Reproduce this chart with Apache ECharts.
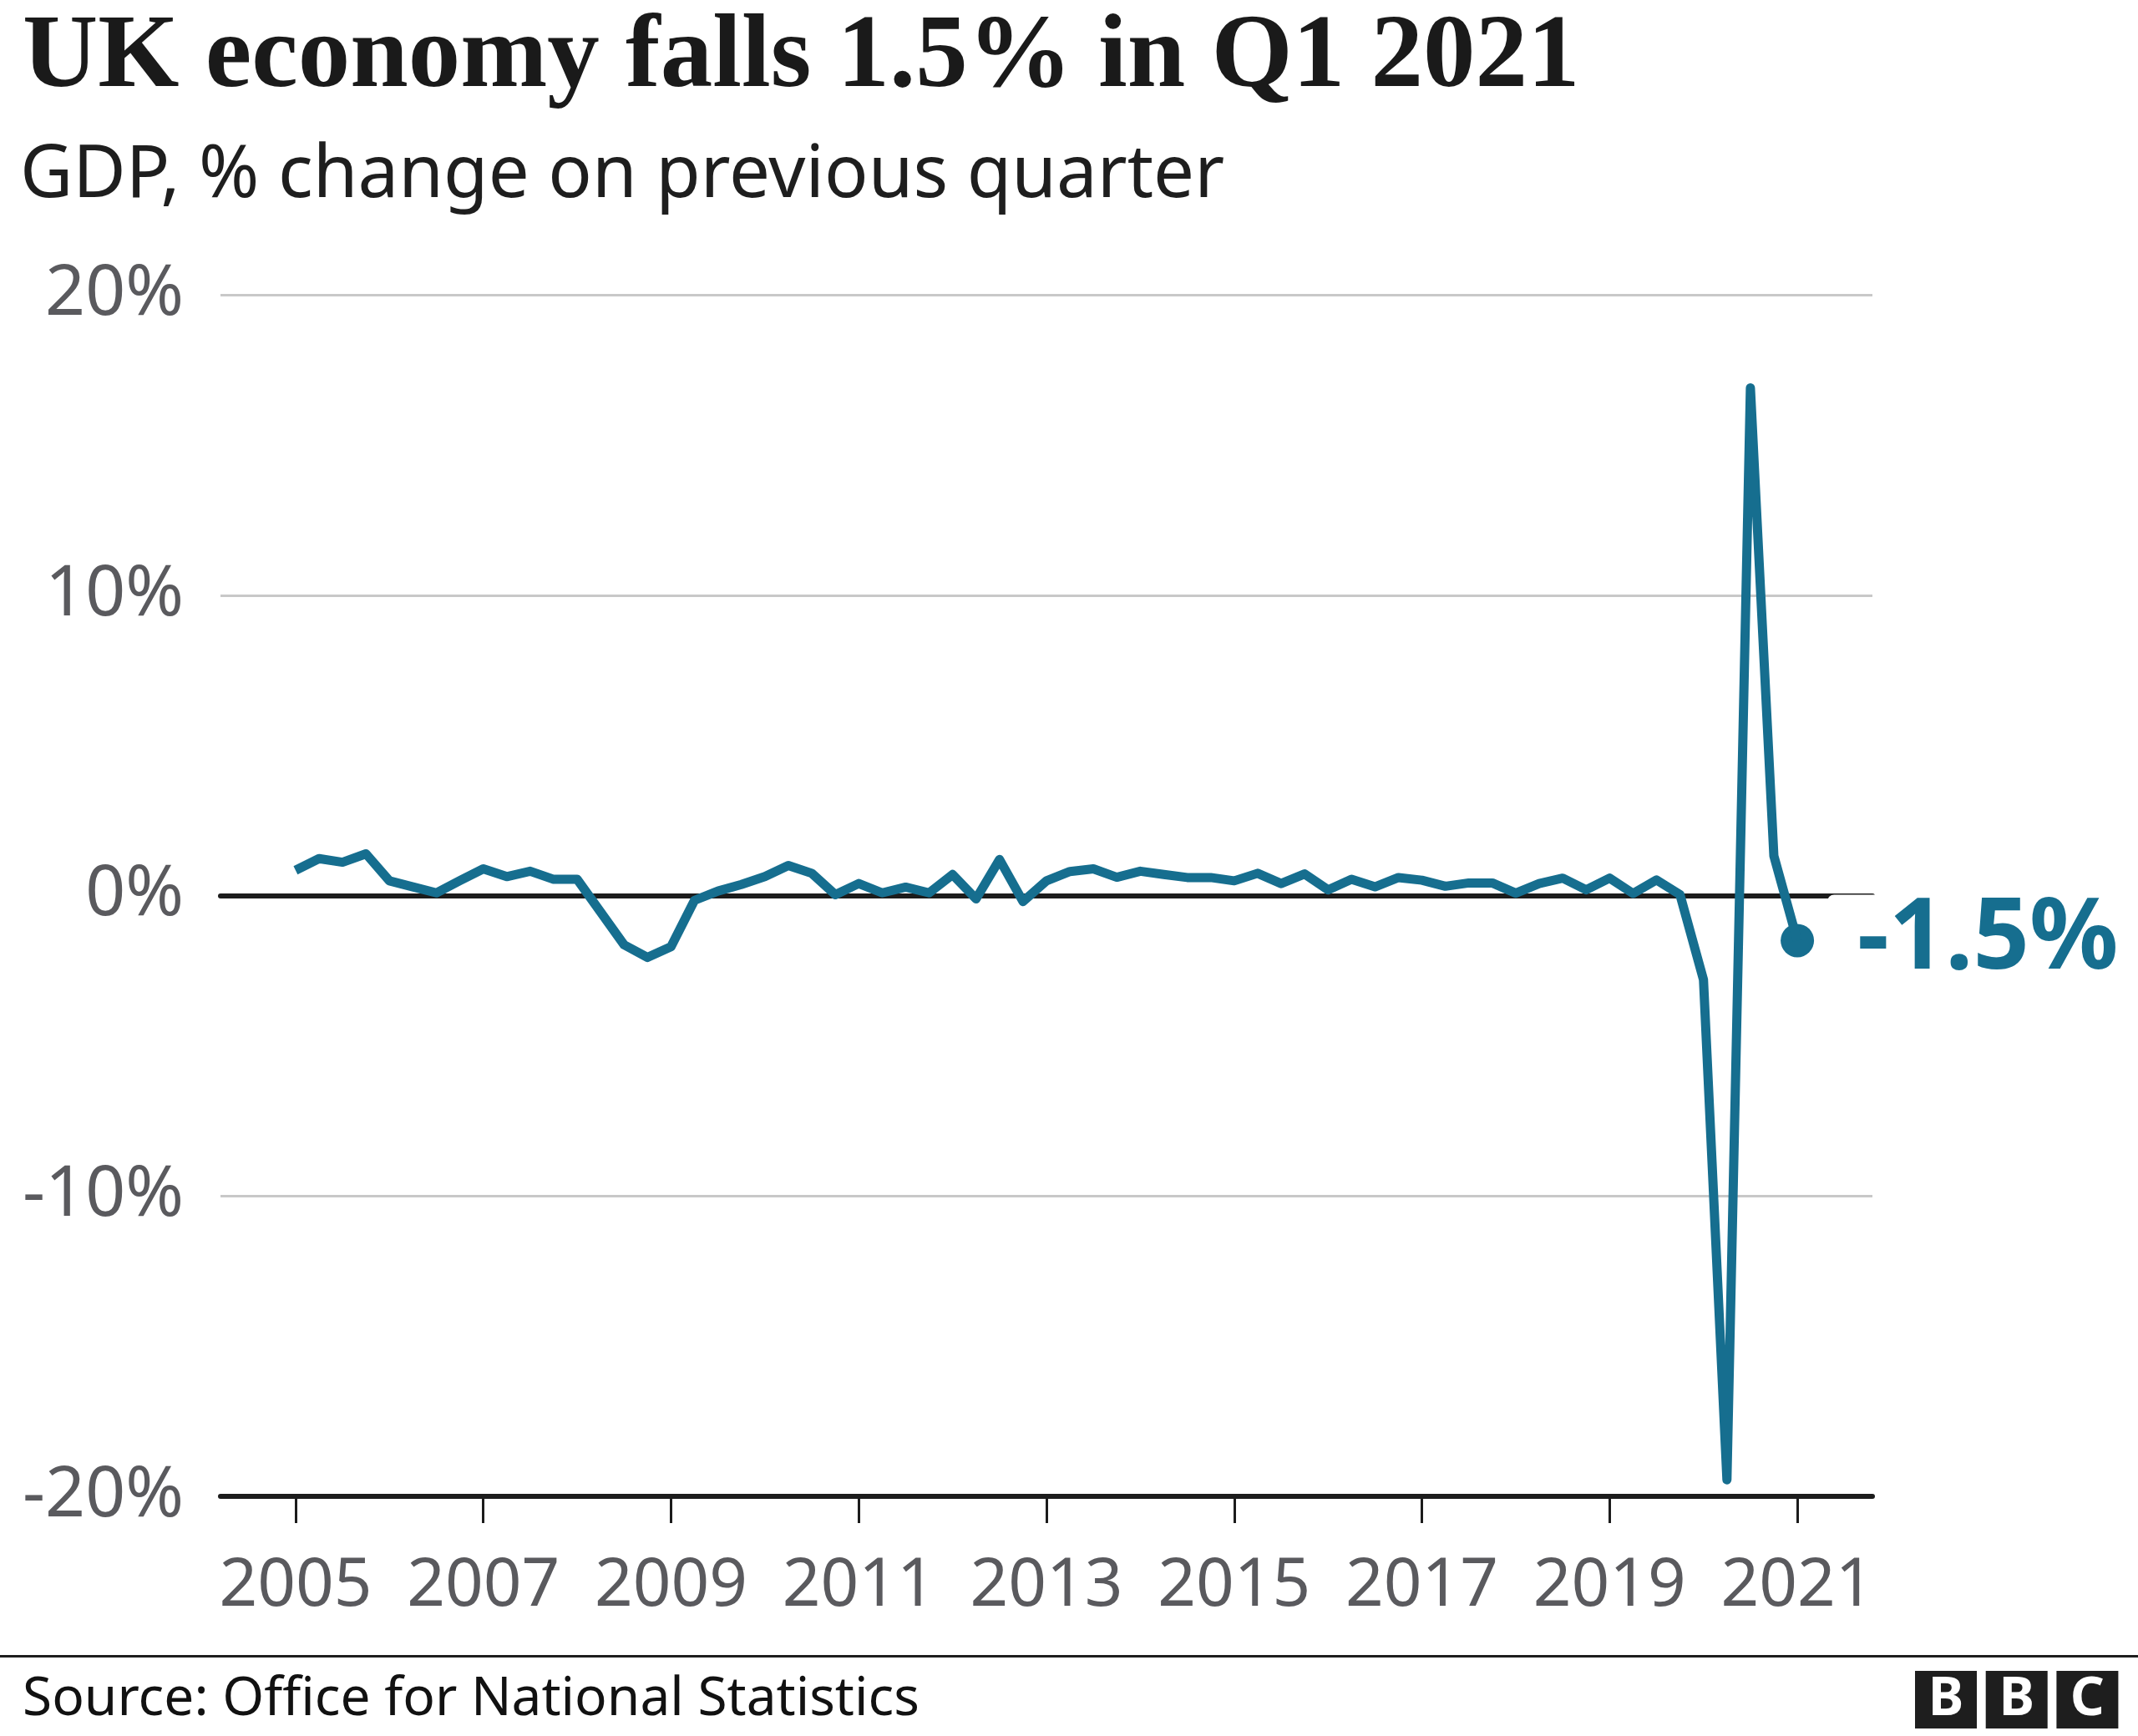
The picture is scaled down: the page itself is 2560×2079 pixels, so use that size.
<!DOCTYPE html>
<html>
<head>
<meta charset="utf-8">
<script src="https://cdn.jsdelivr.net/npm/echarts@6/dist/echarts.min.js"></script>
<style>
  html, body { margin: 0; padding: 0; background: #fff; }
  #chart { width: 2560px; height: 2079px; }
</style>
</head>
<body>
<div id="chart"></div>
<script>
// ---- Data ----
const titleText = 'UK economy falls 1.5% in Q1 2021';
const subtitleText = 'GDP, % change on previous quarter';
const sourceText = 'Source: Office for National Statistics';

// Quarters 2005 Q1 .. 2021 Q1
const quarters = [];
for (let y = 2005; y <= 2021; y++) {
  for (let q = 1; q <= 4; q++) {
    if (y === 2021 && q > 1) break;
    quarters.push(y + ' Q' + q);
  }
}

// GDP % change on previous quarter
const gdpGrowth = [
  0.84, 1.23, 1.11, 1.39,    // 2005
  0.49, 0.29, 0.09, 0.50,    // 2006
  0.89, 0.63, 0.81, 0.54,    // 2007
  0.54, -0.55, -1.64, -2.06, // 2008
  -1.70, -0.16, 0.15, 0.37,  // 2009
  0.63, 1.00, 0.74, 0.03,    // 2010
  0.40, 0.09, 0.28, 0.09,    // 2011
  0.70, -0.11, 1.20, -0.20,  // 2012
  0.49, 0.80, 0.89, 0.61,    // 2013
  0.81, 0.70, 0.60, 0.60,    // 2014
  0.49, 0.74, 0.40, 0.72,    // 2015
  0.19, 0.54, 0.29, 0.60,    // 2016
  0.51, 0.31, 0.42, 0.42,    // 2017
  0.08, 0.40, 0.58, 0.19,    // 2018
  0.58, 0.07, 0.52, 0.03,    // 2019
  -2.80, -19.45, 16.90, 1.32,// 2020
  -1.50                      // 2021
];

const xTickYears = [2005, 2007, 2009, 2011, 2013, 2015, 2017, 2019, 2021];
const yTicks = [-20, -10, 0, 10, 20];

// ---- Build ----
function quarterToX(label) {
  const parts = label.split(' Q');
  return Number(parts[0]) + (Number(parts[1]) - 1) / 4;
}
const lineData = quarters.map((q, i) => [quarterToX(q), gdpGrowth[i]]);
const lastPoint = lineData[lineData.length - 1];

const BLUE = '#166e8f';
const DARK = '#1c1c1c';
const GREY_TXT = '#5a5a5e';
const SANS = '"Noto Sans", "Open Sans", sans-serif';
const X_MIN = 2004.2, X_MAX = 2021.8;

const chart = echarts.init(document.getElementById('chart'), null, { renderer: 'canvas' });

const logoLetters = ['B', 'B', 'C'];
const logoGraphics = [];
logoLetters.forEach((ch, i) => {
  const x = 2293 + i * 84.7;
  logoGraphics.push({
    type: 'rect', shape: { x: x, y: 2001, width: 74, height: 69 },
    style: { fill: '#1e1e1e' }, silent: true
  });
  logoGraphics.push({
    type: 'text', x: x + 37, y: 2036,
    style: { text: ch, fill: '#fff', font: 'bold 64px ' + SANS, align: 'center', verticalAlign: 'middle' },
    silent: true
  });
});

const option = {
  animation: false,
  backgroundColor: '#ffffff',
  textStyle: { fontFamily: SANS },
  grid: { left: 264, right: 318, top: 353, bottom: 287 },
  xAxis: [
    {
      type: 'value', min: X_MIN, max: X_MAX,
      axisLine: { show: true, onZero: false, lineStyle: { color: DARK, width: 6 } },
      axisTick: { show: true, customValues: xTickYears, length: 32, lineStyle: { color: DARK, width: 3 } },
      axisLabel: {
        show: true, customValues: xTickYears, formatter: v => String(v),
        fontSize: 80, color: GREY_TXT, margin: 68, fontFamily: SANS
      },
      splitLine: { show: false }
    },
    {
      type: 'value', min: X_MIN, max: X_MAX, position: 'top',
      axisLine: { show: true, onZero: true, lineStyle: { color: DARK, width: 6 } },
      axisTick: { show: false }, axisLabel: { show: false }, splitLine: { show: false }
    }
  ],
  yAxis: {
    type: 'value', min: yTicks[0], max: yTicks[yTicks.length - 1], interval: 10,
    axisLine: { show: false }, axisTick: { show: false },
    axisLabel: { formatter: '{value}%', fontSize: 84, color: GREY_TXT, margin: 44, fontFamily: SANS },
    splitLine: { show: true, lineStyle: { color: '#c8c8c8', width: 3 } }
  },
  series: [
    {
      type: 'line', xAxisIndex: 0, data: lineData,
      symbol: 'none', lineStyle: { color: BLUE, width: 11, join: 'round' },
      clip: false, silent: true
    },
    {
      type: 'scatter', xAxisIndex: 0, data: [lastPoint],
      symbol: 'circle', symbolSize: 40, itemStyle: { color: BLUE, opacity: 1 },
      clip: false, silent: true,
      label: {
        show: true, position: 'right', distance: 16,
        formatter: p => p.value[1].toFixed(1) + '%',
        color: BLUE, fontSize: 118, fontWeight: 'bold', fontFamily: SANS,
        backgroundColor: '#ffffff', padding: [0, 10, 0, 36], lineHeight: 110,
        borderRadius: 8, opacity: 1
      }
    }
  ],
  graphic: [
    {
      type: 'text', x: 27, y: 71,
      style: { text: titleText, fill: '#1a1a1a', font: 'bold 125px "Liberation Serif", serif', verticalAlign: 'middle' },
      silent: true
    },
    {
      type: 'text', x: 24, y: 211,
      style: { text: subtitleText, fill: '#1e1e1e', font: '87px ' + SANS, verticalAlign: 'middle' },
      silent: true
    },
    {
      type: 'rect', shape: { x: 0, y: 1982, width: 2560, height: 3 },
      style: { fill: '#1e1e1e' }, silent: true
    },
    {
      type: 'text', x: 27, y: 2036,
      style: { text: sourceText, fill: '#111', font: '64px ' + SANS, verticalAlign: 'middle' },
      silent: true
    }
  ].concat(logoGraphics)
};

chart.setOption(option);
</script>
</body>
</html>
